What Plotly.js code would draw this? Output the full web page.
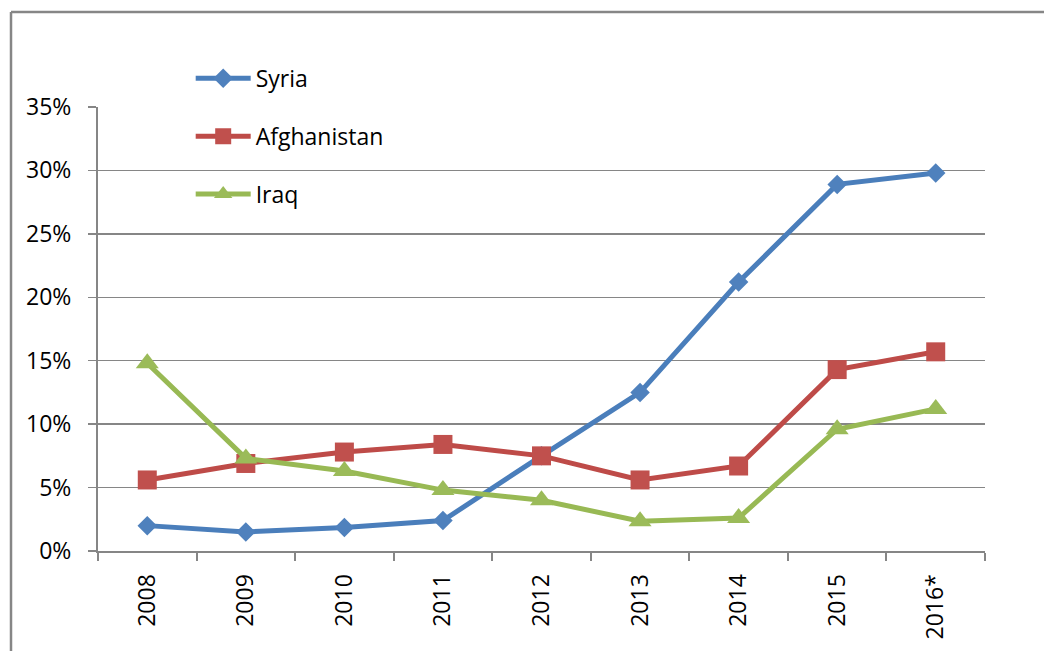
<!DOCTYPE html>
<html>
<head>
<meta charset="utf-8">
<script src="https://cdn.plot.ly/plotly-3.0.1.min.js"></script>
<style>
html,body{margin:0;padding:0;background:#fff;}
#chart{width:1044px;height:651px;}
</style>
</head>
<body>
<div id="chart"></div>
<script>
const years = ["2008","2009","2010","2011","2012","2013","2014","2015","2016*"];
const syria = [2.0, 1.5, 1.85, 2.4, 7.5, 12.5, 21.2, 28.9, 29.8];
const afghanistan = [5.6, 6.9, 7.8, 8.4, 7.5, 5.6, 6.7, 14.3, 15.7];
const iraq = [14.8, 7.3, 6.3, 4.8, 4.0, 2.35, 2.6, 9.6, 11.2];
const seriesNames = ["Syria","Afghanistan","Iraq"];
const yTickVals = [0,5,10,15,20,25,30,35];
const yTickText = ["0%","5%","10%","15%","20%","25%","30%","35%"];

const FONT = "Open Sans, sans-serif";
const FS = 23;
const traces = [
  {x: years, y: syria, name: seriesNames[0], legendgroup: "a",
   mode: "lines+markers", line: {color: "#4A7EBB", width: 5},
   marker: {symbol: "diamond", size: 15, color: "#4F81BD"}},
  {x: years, y: afghanistan, name: seriesNames[1], legendgroup: "b",
   mode: "lines+markers", line: {color: "#BE4B48", width: 5},
   marker: {symbol: "square", size: 19, color: "#C0504D"}},
  {x: years, y: iraq, name: seriesNames[2], legendgroup: "c",
   mode: "lines+markers", line: {color: "#98B954", width: 5},
   marker: {symbol: "triangle-up", size: 20, color: "#9BBB59"}}
];

const layout = {
  width: 1044, height: 651,
  margin: {l: 98, r: 59, t: 107, b: 100},
  paper_bgcolor: "#fff", plot_bgcolor: "#fff",
  font: {family: FONT, size: FS, color: "#000"},
  showlegend: true,
  legend: {x: 0.1045, y: 1.113, xanchor: "left", yanchor: "top",
           traceorder: "grouped", tracegroupgap: 25, itemwidth: 55,
           bgcolor: "rgba(0,0,0,0)", font: {family: FONT, size: FS, color: "#000"}},
  xaxis: {type: "category", range: [-0.5, 8.5], tickson: "boundaries",
          ticks: "outside", ticklen: 8, tickwidth: 2, tickcolor: "#868686",
          showline: true, linecolor: "#868686", linewidth: 2,
          showgrid: false, tickangle: -90, ticklabelstandoff: 12,
          tickfont: {family: FONT, size: FS, color: "#000"}},
  yaxis: {range: [0, 35], tickvals: yTickVals, ticktext: yTickText,
          ticks: "outside", ticklen: 8, tickwidth: 1.5, tickcolor: "#868686",
          showline: true, linecolor: "#868686", linewidth: 2,
          showgrid: true, gridcolor: "#868686", gridwidth: 1.5,
          zeroline: false, ticklabelstandoff: 12,
          tickfont: {family: FONT, size: FS, color: "#000"}},
  shapes: [
    {type: "line", xref: "paper", yref: "paper",
     x0: (11-98)/887, x1: (11-98)/887, y0: -0.3, y1: (551-12)/444,
     line: {color: "#868686", width: 2.5}},
    {type: "line", xref: "paper", yref: "paper",
     x0: (11-98)/887, x1: 1.2, y0: (551-12)/444, y1: (551-12)/444,
     line: {color: "#868686", width: 2.5}}
  ]
};

Plotly.newPlot("chart", traces, layout, {displayModeBar: false, staticPlot: true});
</script>
</body>
</html>
